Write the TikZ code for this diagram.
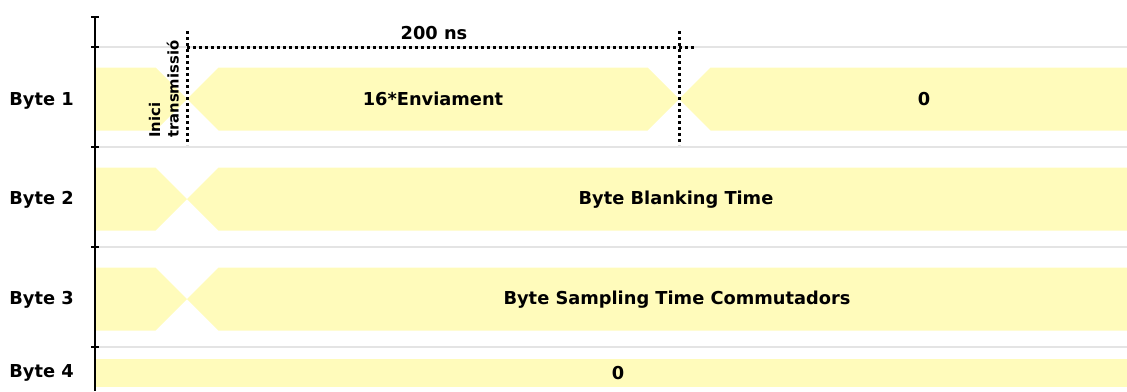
\documentclass[tikz,border=0pt]{standalone}
\usepackage{fontspec}
\setmainfont{DejaVu Sans}
\definecolor{band}{HTML}{FFFBBB}
\definecolor{grid}{HTML}{E4E4E4}
\begin{document}
\begin{tikzpicture}[x=1pt,y=-1pt,
  lbl/.style={font=\fontsize{17.8}{20}\selectfont\bfseries, inner sep=0pt},
  rotlbl/.style={font=\fontsize{14.8}{18.5}\selectfont\bfseries, inner sep=0pt, rotate=90, align=left, anchor=south west},
  bandfill/.style={fill=band, draw=none},
  gridline/.style={draw=grid, line width=1.5pt},
  axisline/.style={draw=black, line width=1.4pt},
  dotline/.style={draw=black, line width=3pt, dash pattern=on 3pt off 3pt}]
\useasboundingbox (0,0) rectangle (1127,391);
% grid lines
\foreach \y in {47,147,247,347} \draw[gridline] (95,\y) -- (1127,\y);
% bands
% Byte 1
\path[bandfill] (96,67.5) -- (155.5,67.5) -- (187,99) -- (155.5,130.5) -- (96,130.5) -- cycle;
\path[bandfill] (218.5,67.5) -- (647.5,67.5) -- (679,99) -- (647.5,130.5) -- (218.5,130.5) -- (187,99) -- cycle;
\path[bandfill] (710.5,67.5) -- (1127,67.5) -- (1127,130.5) -- (710.5,130.5) -- (679,99) -- cycle;
% Byte 2
\path[bandfill] (96,167.5) -- (155.5,167.5) -- (187,199) -- (155.5,230.5) -- (96,230.5) -- cycle;
\path[bandfill] (218.5,167.5) -- (1127,167.5) -- (1127,230.5) -- (218.5,230.5) -- (187,199) -- cycle;
% Byte 3
\path[bandfill] (96,267.5) -- (155.5,267.5) -- (187,299) -- (155.5,330.5) -- (96,330.5) -- cycle;
\path[bandfill] (218.5,267.5) -- (1127,267.5) -- (1127,330.5) -- (218.5,330.5) -- (187,299) -- cycle;
% Byte 4
\path[bandfill] (96,359) -- (1127,359) -- (1127,387) -- (96,387) -- cycle;
% axis
\coordinate (atop) at (95,17);
\coordinate (abot) at (95,391);
\draw[axisline] (atop) -- (abot);
\foreach \y in {17,47,147,247,347} \draw[axisline] (91,\y) -- (99,\y);
% dotted markers
\coordinate (m1t) at (187,31);
\coordinate (m1b) at (187,145);
\coordinate (m2t) at (679,31);
\coordinate (m2b) at (679,145);
\coordinate (hs) at (187,47);
\coordinate (he) at (696,47);
\draw[dotline] (m1t) -- (m1b);
\draw[dotline] (m2t) -- (m2b);
\draw[dotline] (hs) -- (he);
% labels
\node[lbl] (b1) at (41.5,101) {Byte 1};
\node[lbl] (b2) at (41.5,200) {Byte 2};
\node[lbl] (b3) at (41.5,300) {Byte 3};
\node[lbl] (b4) at (41.5,373) {Byte 4};
\node[lbl] (ns) at (434,33) {200 ns};
\node[lbl] (env) at (433,99) {16*Enviament};
\node[lbl] (z1) at (924,99) {0};
\node[lbl] (bbt) at (676,200) {Byte Blanking Time};
\node[lbl] (bst) at (677,300) {Byte Sampling Time Commutadors};
\node[lbl] (z4) at (618,373.5) {0};
\node[rotlbl] (ini) at (179,138) {Inici\\transmissió};
\end{tikzpicture}
\end{document}
